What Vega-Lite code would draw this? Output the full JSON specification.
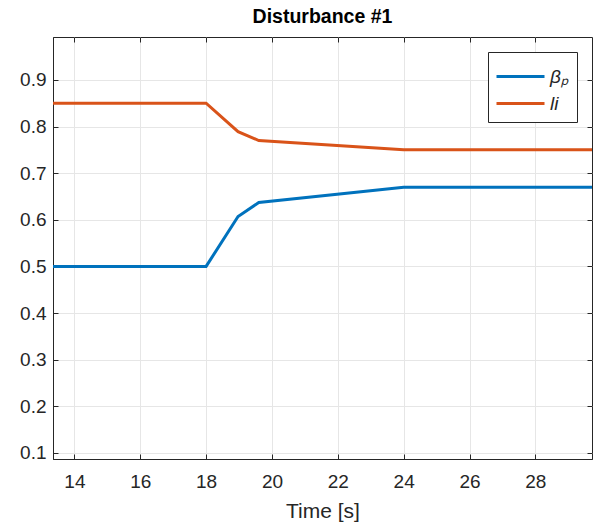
{
  "$schema": "https://vega.github.io/schema/vega-lite/v6.json",
  "width": 539,
  "height": 422,
  "autosize": "none",
  "padding": {"left": 53, "top": 37, "right": 4, "bottom": 67},
  "background": "white",
  "config": {
    "font": "Liberation Sans",
    "view": {"stroke": "#262626", "strokeWidth": 1},
    "axis": {
      "labelFont": "Liberation Sans",
      "labelFontSize": 19,
      "labelColor": "#262626",
      "titleFont": "Liberation Sans",
      "titleFontSize": 21,
      "titleFontWeight": "normal",
      "titleColor": "#262626",
      "gridColor": "#e6e6e6",
      "gridWidth": 1,
      "domainColor": "#262626",
      "tickColor": "#262626",
      "tickSize": -5
    }
  },
  "title": {
    "text": "Disturbance #1",
    "fontSize": 19.5,
    "fontWeight": "bold",
    "font": "Liberation Sans",
    "color": "#000000",
    "anchor": "middle",
    "offset": 9
  },
  "data": {
    "values": [
      {"t": 13.0, "v": 0.5, "s": "β"},
      {"t": 18.0, "v": 0.5, "s": "β"},
      {"t": 18.97, "v": 0.607, "s": "β"},
      {"t": 19.6, "v": 0.637, "s": "β"},
      {"t": 24.0, "v": 0.67, "s": "β"},
      {"t": 30.0, "v": 0.67, "s": "β"},
      {"t": 13.0, "v": 0.85, "s": "li"},
      {"t": 18.0, "v": 0.85, "s": "li"},
      {"t": 18.97, "v": 0.789, "s": "li"},
      {"t": 19.6, "v": 0.77, "s": "li"},
      {"t": 24.0, "v": 0.75, "s": "li"},
      {"t": 30.0, "v": 0.75, "s": "li"}
    ]
  },
  "layer": [
    {
      "mark": {"type": "line", "strokeWidth": 3, "clip": true},
      "encoding": {
        "x": {
          "field": "t",
          "type": "quantitative",
          "scale": {"domain": [13.35, 29.72], "nice": false, "zero": false},
          "axis": {"title": "Time [s]", "orient": "bottom", "values": [14, 16, 18, 20, 22, 24, 26, 28], "titlePadding": 9, "labelPadding": 18}
        },
        "y": {
          "field": "v",
          "type": "quantitative",
          "scale": {"domain": [0.087, 0.992], "nice": false, "zero": false},
          "axis": {"title": null, "orient": "left", "values": [0.1, 0.2, 0.3, 0.4, 0.5, 0.6, 0.7, 0.8, 0.9], "format": ".1f", "labelPadding": 12}
        },
        "color": {
          "field": "s",
          "type": "nominal",
          "scale": {"domain": ["β", "li"], "range": ["#0072BD", "#D95319"]},
          "legend": {
            "title": null,
            "orient": "top-right",
            "offset": 15,
            "symbolType": "M-1.6,0H1.6",
            "symbolSize": 900,
            "symbolOffset": 8,
            "symbolStrokeWidth": 3,
            "labelOffset": 13,
            "labelFontSize": 19,
            "labelFontStyle": "italic",
            "labelFont": "Liberation Sans",
            "labelColor": "#262626",
            "labelExpr": "datum.label == 'β' ? 'βₚ' : datum.label",
            "strokeColor": "#262626",
            "fillColor": "white",
            "padding": 8,
            "rowPadding": -3
          }
        }
      }
    },
    {
      "mark": {"type": "line", "opacity": 0, "clip": true},
      "encoding": {
        "x": {
          "field": "t",
          "type": "quantitative",
          "scale": {"domain": [13.35, 29.72], "nice": false, "zero": false},
          "axis": {"title": null, "orient": "top", "values": [14, 16, 18, 20, 22, 24, 26, 28], "labels": false, "grid": false, "domain": false}
        },
        "y": {
          "field": "v",
          "type": "quantitative",
          "scale": {"domain": [0.087, 0.992], "nice": false, "zero": false},
          "axis": {"title": null, "orient": "right", "values": [0.1, 0.2, 0.3, 0.4, 0.5, 0.6, 0.7, 0.8, 0.9], "labels": false, "grid": false, "domain": false}
        },
        "detail": {"field": "s"}
      }
    }
  ],
  "resolve": {"axis": {"x": "independent", "y": "independent"}}
}
